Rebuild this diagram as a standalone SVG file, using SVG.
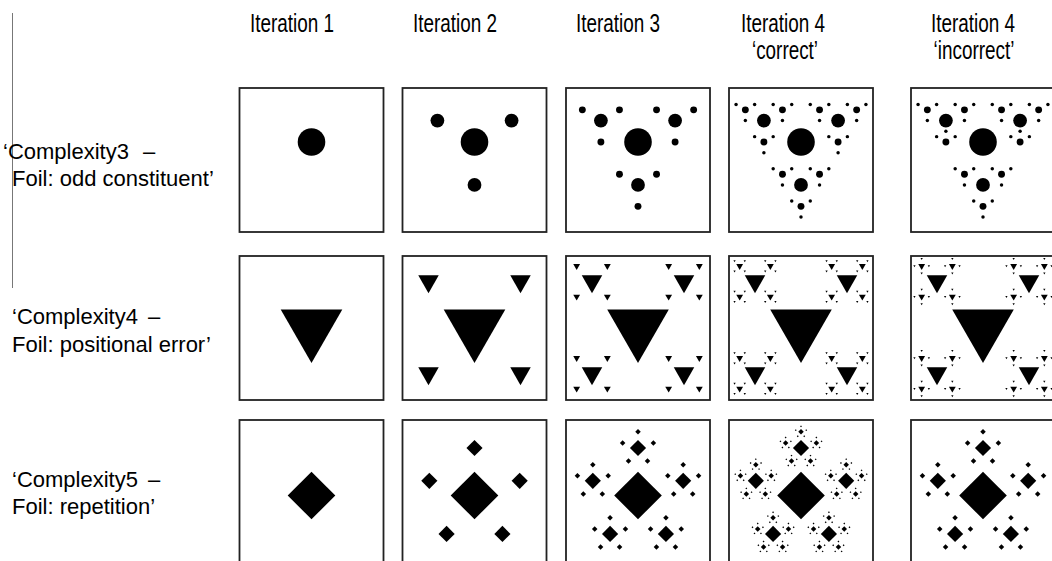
<svg xmlns="http://www.w3.org/2000/svg" width="1052" height="561" viewBox="0 0 1052 561">
<style>
.box{fill:#fff;stroke:#222;stroke-width:1.8}
.lbl{font-family:"Liberation Sans",Arial,sans-serif;font-size:22px;fill:#000}
.hdr{font-family:"Liberation Sans",Arial,sans-serif;font-size:25px;fill:#000;text-anchor:middle}
.sep{stroke:#777;stroke-width:1}
</style>
<defs>
<g id="c1"><circle r="13.8"/></g>
<g id="c2"><use href="#c1"/><use href="#c1" transform="translate(-37.1,-21.45) scale(0.5)"/><use href="#c1" transform="translate(37.1,-21.45) scale(0.5)"/><use href="#c1" transform="translate(0,42.9) scale(0.5)"/></g>
<g id="c3"><use href="#c1"/><use href="#c2" transform="translate(-37.1,-21.45) scale(0.5)"/><use href="#c2" transform="translate(37.1,-21.45) scale(0.5)"/><use href="#c2" transform="translate(0,42.9) scale(0.5)"/></g>
<g id="c4"><use href="#c1"/><use href="#c3" transform="translate(-37.1,-21.45) scale(0.5)"/><use href="#c3" transform="translate(37.1,-21.45) scale(0.5)"/><use href="#c3" transform="translate(0,42.9) scale(0.5)"/></g>
<g id="c2bad"><use href="#c1"/><use href="#c1" transform="translate(-37.1,-21.45) scale(0.5)"/><use href="#c1" transform="translate(37.1,-21.45) scale(0.5)"/><use href="#c1" transform="translate(0,-42.9) scale(0.5)"/></g>
<g id="c3bad"><use href="#c1"/><use href="#c2" transform="translate(-37.1,-21.45) scale(0.5)"/><use href="#c2" transform="translate(37.1,-21.45) scale(0.5)"/><use href="#c2bad" transform="translate(0,42.9) scale(0.5)"/></g>
<g id="c4bad"><use href="#c1"/><use href="#c3bad" transform="translate(-37.1,-21.45) scale(0.5)"/><use href="#c3bad" transform="translate(37.1,-21.45) scale(0.5)"/><use href="#c3" transform="translate(0,42.9) scale(0.5)"/></g>

<g id="t1"><polygon points="-30.8,-17.8 30.8,-17.8 0,35.6"/></g>
<g id="t2"><use href="#t1"/><use href="#t1" transform="translate(-46,-46) scale(0.3333)"/><use href="#t1" transform="translate(46,-46) scale(0.3333)"/><use href="#t1" transform="translate(-46,46) scale(0.3333)"/><use href="#t1" transform="translate(46,46) scale(0.3333)"/></g>
<g id="t3"><use href="#t1"/><use href="#t2" transform="translate(-46,-46) scale(0.3333)"/><use href="#t2" transform="translate(46,-46) scale(0.3333)"/><use href="#t2" transform="translate(-46,46) scale(0.3333)"/><use href="#t2" transform="translate(46,46) scale(0.3333)"/></g>
<g id="t4"><use href="#t1"/><use href="#t3" transform="translate(-46,-46) scale(0.3333)"/><use href="#t3" transform="translate(46,-46) scale(0.3333)"/><use href="#t3" transform="translate(-46,46) scale(0.3333)"/><use href="#t3" transform="translate(46,46) scale(0.3333)"/></g>
<g id="t2bad"><use href="#t1"/><use href="#t1" transform="translate(0,-65) scale(0.3333)"/><use href="#t1" transform="translate(65,0) scale(0.3333)"/><use href="#t1" transform="translate(0,65) scale(0.3333)"/><use href="#t1" transform="translate(-65,0) scale(0.3333)"/></g>
<g id="t3bad"><use href="#t1"/><use href="#t2bad" transform="translate(-46,-46) scale(0.3333)"/><use href="#t2bad" transform="translate(46,-46) scale(0.3333)"/><use href="#t2bad" transform="translate(-46,46) scale(0.3333)"/><use href="#t2bad" transform="translate(46,46) scale(0.3333)"/></g>
<g id="t4bad"><use href="#t1"/><use href="#t3bad" transform="translate(-46,-46) scale(0.3333)"/><use href="#t3bad" transform="translate(46,-46) scale(0.3333)"/><use href="#t3bad" transform="translate(-46,46) scale(0.3333)"/><use href="#t3bad" transform="translate(46,46) scale(0.3333)"/></g>

<g id="d1"><polygon points="0,-23.8 23.8,0 0,23.8 -23.8,0"/></g>
<g id="d2"><use href="#d1"/><use href="#d1" transform="translate(0,-47.5) scale(0.34)"/><use href="#d1" transform="translate(45.18,-14.68) scale(0.34)"/><use href="#d1" transform="translate(27.92,38.43) scale(0.34)"/><use href="#d1" transform="translate(-27.92,38.43) scale(0.34)"/><use href="#d1" transform="translate(-45.18,-14.68) scale(0.34)"/></g>
<g id="d3"><use href="#d1"/><use href="#d2" transform="translate(0,-47.5) scale(0.34)"/><use href="#d2" transform="translate(45.18,-14.68) scale(0.34)"/><use href="#d2" transform="translate(27.92,38.43) scale(0.34)"/><use href="#d2" transform="translate(-27.92,38.43) scale(0.34)"/><use href="#d2" transform="translate(-45.18,-14.68) scale(0.34)"/></g>
<g id="d4"><use href="#d1"/><use href="#d3" transform="translate(0,-47.5) scale(0.34)"/><use href="#d3" transform="translate(45.18,-14.68) scale(0.34)"/><use href="#d3" transform="translate(27.92,38.43) scale(0.34)"/><use href="#d3" transform="translate(-27.92,38.43) scale(0.34)"/><use href="#d3" transform="translate(-45.18,-14.68) scale(0.34)"/></g>
</defs>
<rect width="1052" height="561" fill="#fff"/>

<g id="connectors">
<line class="sep" x1="12.5" y1="13" x2="12.5" y2="288"/>
</g>

<g id="headers">
<text class="hdr" x="292" y="32" textLength="84" lengthAdjust="spacingAndGlyphs">Iteration 1</text>
<text class="hdr" x="455" y="32" textLength="84" lengthAdjust="spacingAndGlyphs">Iteration 2</text>
<text class="hdr" x="618" y="32" textLength="84" lengthAdjust="spacingAndGlyphs">Iteration 3</text>
<text class="hdr" x="783" y="32" textLength="84" lengthAdjust="spacingAndGlyphs">Iteration 4</text>
<text class="hdr" x="785" y="59" textLength="66" lengthAdjust="spacingAndGlyphs">‘correct’</text>
<text class="hdr" x="973" y="32" textLength="84" lengthAdjust="spacingAndGlyphs">Iteration 4</text>
<text class="hdr" x="974" y="59" textLength="81" lengthAdjust="spacingAndGlyphs">‘incorrect’</text>
</g>

<g id="row-labels">
<text class="lbl" x="3" y="159">‘Complexity3 <tspan dx="8">–</tspan></text>
<text class="lbl" x="12" y="186">Foil: odd constituent’</text>
<text class="lbl" x="12" y="324">‘Complexity4 <tspan dx="4">–</tspan></text>
<text class="lbl" x="12" y="352">Foil: positional error’</text>
<text class="lbl" x="12" y="487">‘Complexity5 <tspan dx="4">–</tspan></text>
<text class="lbl" x="12" y="514">Foil: repetition’</text>
</g>

<g id="row1">
<g id="r1c1"><rect class="box" x="239.5" y="88" width="144" height="144"/><use href="#c1" x="311.5" y="142"/></g>
<g id="r1c2"><rect class="box" x="402.5" y="88" width="144" height="144"/><use href="#c2" x="474.5" y="142"/></g>
<g id="r1c3"><rect class="box" x="566" y="88" width="144" height="144"/><use href="#c3" x="638" y="142"/></g>
<g id="r1c4"><rect class="box" x="729" y="88" width="144" height="144"/><use href="#c4" x="801" y="142"/></g>
<g id="r1c5"><rect class="box" x="911" y="88" width="144" height="144"/><use href="#c4bad" x="983" y="142"/></g>
</g>

<g id="row2">
<g id="r2c1"><rect class="box" x="239.5" y="256" width="144" height="144"/><use href="#t1" x="311.5" y="327.3"/></g>
<g id="r2c2"><rect class="box" x="402.5" y="256" width="144" height="144"/><use href="#t2" x="474.5" y="327.3"/></g>
<g id="r2c3"><rect class="box" x="566" y="256" width="144" height="144"/><use href="#t3" x="638" y="327.3"/></g>
<g id="r2c4"><rect class="box" x="729" y="256" width="144" height="144"/><use href="#t4" x="801" y="327.3"/></g>
<g id="r2c5"><rect class="box" x="911" y="256" width="144" height="144"/><use href="#t4bad" x="983" y="327.3"/></g>
</g>

<g id="row3">
<g id="r3c1"><rect class="box" x="239.5" y="420" width="144" height="150"/><use href="#d1" x="311.5" y="495.5"/></g>
<g id="r3c2"><rect class="box" x="402.5" y="420" width="144" height="150"/><use href="#d2" x="474.5" y="495.5"/></g>
<g id="r3c3"><rect class="box" x="566" y="420" width="144" height="150"/><use href="#d3" x="638" y="495.5"/></g>
<g id="r3c4"><rect class="box" x="729" y="420" width="144" height="150"/><use href="#d4" x="801" y="495.5"/></g>
<g id="r3c5"><rect class="box" x="911" y="420" width="144" height="150"/><use href="#d3" x="983" y="495.5"/></g>
</g>
</svg>
